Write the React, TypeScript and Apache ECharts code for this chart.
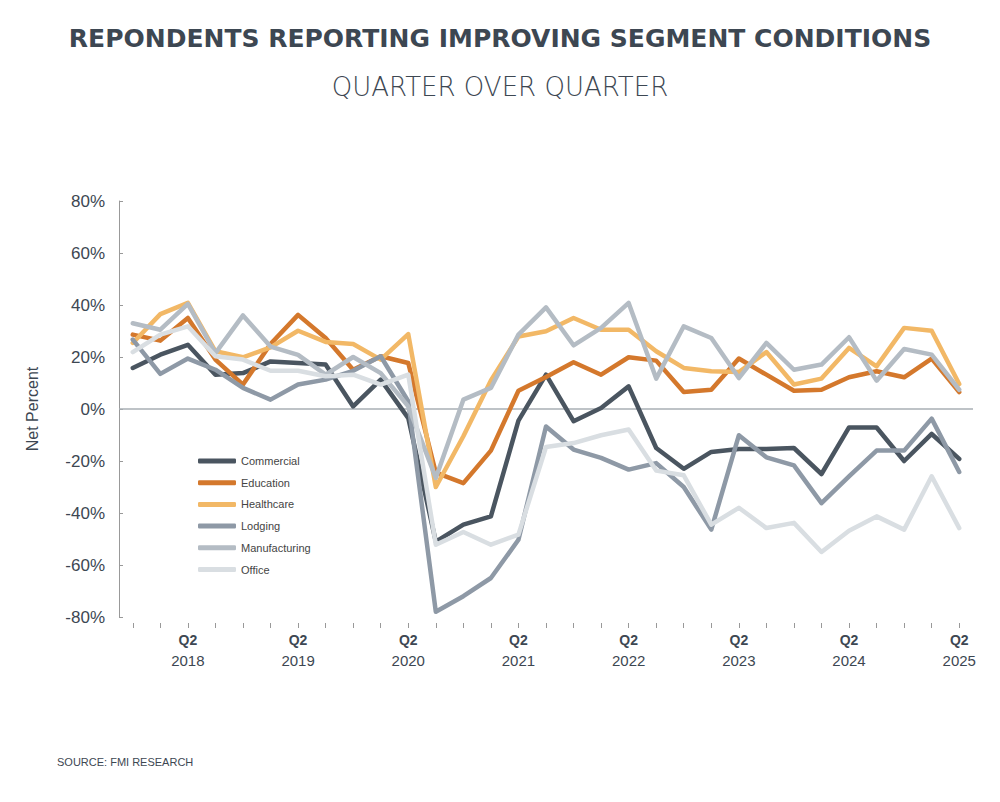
import React, { useEffect, useRef } from 'react';
import * as echarts from 'echarts';

const quarters = [
  'Q4 2017',
  'Q1 2018', 'Q2 2018', 'Q3 2018', 'Q4 2018',
  'Q1 2019', 'Q2 2019', 'Q3 2019', 'Q4 2019',
  'Q1 2020', 'Q2 2020', 'Q3 2020', 'Q4 2020',
  'Q1 2021', 'Q2 2021', 'Q3 2021', 'Q4 2021',
  'Q1 2022', 'Q2 2022', 'Q3 2022', 'Q4 2022',
  'Q1 2023', 'Q2 2023', 'Q3 2023', 'Q4 2023',
  'Q1 2024', 'Q2 2024', 'Q3 2024', 'Q4 2024',
  'Q1 2025', 'Q2 2025'
];

const commercial = [15.8, 20.9, 24.7, 13.2, 13.8, 18.3, 17.7, 17.1, 1.0, 11.3, -3.5, -51, -44.5, -41.3, -4.5, 13.2, -4.7, 0.4, 8.7, -15, -23, -16.5, -15.4, -15.4, -15, -25, -7.1, -7.1, -20, -9.6, -19.2];
const education = [28.6, 26.3, 35, 19, 9.4, 25, 36.2, 27.3, 15.1, 20.3, 17.7, -24.5, -28.5, -16, 7, 12.3, 18, 13.2, 19.9, 18.6, 6.5, 7.4, 19.4, 13.2, 7, 7.4, 12.2, 14.5, 12.2, 19.4, 6.5];
const healthcare = [25.4, 36.5, 40.8, 22.2, 19.9, 23.7, 30.1, 25.8, 25, 19, 28.8, -30, -10.5, 11, 27.9, 29.9, 35, 30.5, 30.5, 22.2, 15.8, 14.5, 14.2, 21.9, 9.4, 11.7, 23.5, 16.4, 31.2, 30.1, 9.6];
const lodging = [26.7, 13.5, 19.4, 15.1, 8.1, 3.6, 9.4, 11.3, 14.7, 20.3, 3, -78, -72, -65, -50.3, -6.7, -15.6, -18.8, -23.3, -20.8, -30, -46.4, -10.1, -18.6, -21.7, -36.2, -25.9, -16, -16, -3.7, -24.2];
const manufacturing = [33, 30.5, 40.4, 21.5, 36, 24, 20.8, 13.2, 20, 13.8, 1, -26.5, 3.6, 8.1, 28.6, 39.1, 24.5, 31.2, 40.8, 11.7, 31.8, 27.3, 11.9, 25.4, 15.1, 17.1, 27.6, 10.9, 23.1, 20.9, 7.4];
const office = [21.9, 28.6, 31.8, 20.3, 19, 14.7, 14.7, 12.6, 13.2, 9.4, 13.2, -52.2, -47.3, -52.2, -48.3, -14.6, -13.1, -10.1, -7.9, -23.7, -25.5, -44.5, -38, -45.8, -43.8, -55, -46.8, -41.3, -46.4, -25.9, -45.8];

const segments = [
  { name: 'Commercial', data: commercial, color: '#4a5560' },
  { name: 'Education', data: education, color: '#d4782c' },
  { name: 'Healthcare', data: healthcare, color: '#f2b866' },
  { name: 'Lodging', data: lodging, color: '#8e99a6' },
  { name: 'Manufacturing', data: manufacturing, color: '#b4bcc4' },
  { name: 'Office', data: office, color: '#d9dee2' }
];

const TEXT = '#3d4752';
const FONT = '"Liberation Sans", Arial, sans-serif';

const App: React.FC = () => {
  const chartRef = useRef<HTMLDivElement>(null);

  useEffect(() => {
    if (!chartRef.current) return;
    const chart = echarts.init(chartRef.current, null, { renderer: 'svg' });

    const option: echarts.EChartsOption = {
      animation: false,
      backgroundColor: '#ffffff',
      textStyle: { fontFamily: FONT },
      title: [
        {
          text: 'REPONDENTS REPORTING IMPROVING SEGMENT CONDITIONS',
          left: 'center',
          top: 21,
          textStyle: {
            fontFamily: '"DejaVu Sans", sans-serif',
            fontSize: 25,
            fontWeight: 'bold',
            color: TEXT
          }
        },
        {
          text: 'QUARTER OVER QUARTER',
          left: 'center',
          top: 69,
          textStyle: {
            fontFamily: '"DejaVu Sans", sans-serif',
            fontSize: 26,
            fontWeight: 200,
            color: TEXT
          }
        },
        {
          text: 'SOURCE: FMI RESEARCH',
          left: 52,
          top: 751,
          textStyle: { fontFamily: FONT, fontSize: 11, fontWeight: 'normal', color: TEXT }
        }
      ],
      legend: {
        orient: 'vertical',
        left: 193,
        top: 449,
        icon: 'roundRect',
        itemWidth: 38,
        itemHeight: 5,
        itemGap: 7.7,
        textStyle: { fontSize: 11, color: '#444', lineHeight: 14 },
        data: segments.map(s => s.name)
      },
      grid: { left: 119, right: 27, top: 201, bottom: 185 },
      xAxis: {
        type: 'category',
        data: quarters,
        boundaryGap: true,
        offset: 6,
        axisLine: { show: false, onZero: false },
        axisTick: {
          show: true,
          interval: 0,
          alignWithLabel: true,
          length: 5,
          lineStyle: { color: '#999', width: 1 }
        },
        axisLabel: {
          interval: (index: number) => index % 4 === 2,
          margin: 6,
          formatter: (value: string) => {
            const [q, y] = value.split(' ');
            return `{q|${q}}\n{y|${y}}`;
          },
          rich: {
            q: { fontSize: 14, fontWeight: 'bold', color: TEXT, lineHeight: 21, fontFamily: FONT },
            y: { fontSize: 15, color: TEXT, lineHeight: 21, fontFamily: FONT }
          }
        },
        splitLine: { show: false }
      },
      yAxis: {
        type: 'value',
        min: -80,
        max: 80,
        interval: 20,
        name: 'Net Percent',
        nameLocation: 'middle',
        nameGap: 79,
        nameTextStyle: { fontSize: 16, color: TEXT, fontFamily: FONT },
        axisLine: { show: true, lineStyle: { color: '#999', width: 1 } },
        axisTick: { show: true, inside: true, length: 4, lineStyle: { color: '#999' } },
        axisLabel: { formatter: '{value}%', fontSize: 17, color: TEXT, margin: 14, fontFamily: FONT },
        splitLine: { show: false }
      },
      series: segments.map((s, i) => ({
        name: s.name,
        type: 'line',
        data: s.data,
        symbol: 'none',
        color: s.color,
        lineStyle: { color: s.color, width: 4.5, cap: 'round', join: 'round' },
        z: 3,
        markLine: i === 0
          ? {
              silent: true,
              symbol: 'none',
              label: { show: false },
              lineStyle: { color: '#a9afb5', width: 1.5, type: 'solid' },
              data: [{ yAxis: 0 }],
              z: 1
            }
          : undefined
      }))
    };

    chart.setOption(option);
    return () => {
      chart.dispose();
    };
  }, []);

  return (
    <div
      ref={chartRef}
      style={{ position: 'fixed', left: 0, top: 0, width: '1000px', height: '802px' }}
    />
  );
};

export default App;
